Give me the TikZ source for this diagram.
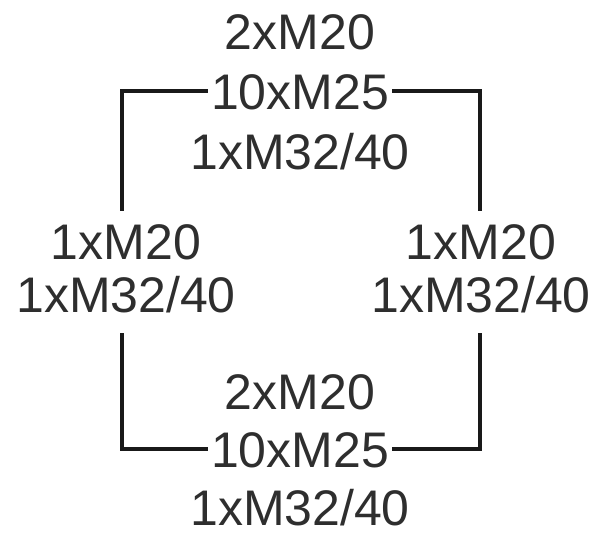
\documentclass[tikz,border=0pt]{standalone}
\usepackage{fontspec}
\setmainfont{Liberation Sans}
\begin{document}
\begin{tikzpicture}[x=1pt,y=-1pt,
  lbl/.style={font=\fontsize{50}{60}\selectfont, text=black!82, inner sep=0pt, inner xsep=3pt, text height=36pt, text depth=0pt},
  wire/.style={line width=3.8pt, black!90, line cap=butt, line join=miter}]
\useasboundingbox (0,0) rectangle (596,533);
% top block
\node[lbl] (t1) at (300,31) {2xM20};
\node[lbl] (t2) at (300,91) {10xM25};
\node[lbl] (t3) at (300,151) {1xM32/40};
% left block
\node[lbl] (l1) at (126,241) {1xM20};
\node[lbl] (l2) at (126,294) {1xM32/40};
% right block
\node[lbl] (r1) at (481,241) {1xM20};
\node[lbl] (r2) at (481,294) {1xM32/40};
% bottom block
\node[lbl] (b1) at (300,391) {2xM20};
\node[lbl] (b2) at (300,449) {10xM25};
\node[lbl] (b3) at (300,507) {1xM32/40};
% free ends of the connectors
\coordinate (lt) at (122,211);
\coordinate (rt) at (480,211);
\coordinate (lb) at (122,333);
\coordinate (rb) at (480,333);
% connectors
\draw[wire] (t2.west) -| (lt);
\draw[wire] (t2.east) -| (rt);
\draw[wire] (b2.west) -| (lb);
\draw[wire] (b2.east) -| (rb);
\end{tikzpicture}
\end{document}
